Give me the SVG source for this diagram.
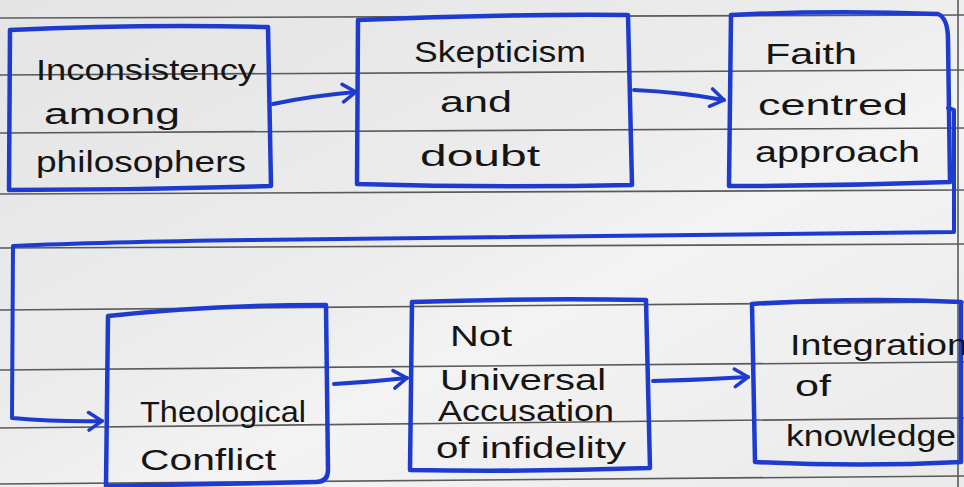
<svg xmlns="http://www.w3.org/2000/svg" width="964" height="487" viewBox="0 0 964 487">
<defs>
<linearGradient id="paper" x1="0" y1="0" x2="1" y2="1">
<stop offset="0" stop-color="#e4e4e4"/>
<stop offset="0.45" stop-color="#ececec"/>
<stop offset="0.6" stop-color="#f3f3f3"/>
<stop offset="1" stop-color="#eaeaea"/>
</linearGradient>
<marker id="arr" viewBox="0 0 20 20" refX="16" refY="10" markerWidth="22" markerHeight="22" markerUnits="userSpaceOnUse" orient="auto">
<path d="M4 2 L16 10 L4 18" fill="none" stroke="#1d3ccf" stroke-width="3.2" stroke-linecap="round" stroke-linejoin="round"/>
</marker>
</defs>
<style>
.box{fill:none;stroke:#1d3ccf;stroke-width:4.5;stroke-linejoin:round;stroke-linecap:round}
.con{fill:none;stroke:#1d3ccf;stroke-width:4;stroke-linecap:round;stroke-linejoin:round}
.rule{stroke:#5a5a5a;stroke-width:1.6;fill:none}
text{font-family:"Liberation Sans","DejaVu Sans",sans-serif;font-size:30px;fill:#151515}
</style>
<rect x="0" y="0" width="964" height="487" fill="url(#paper)"/>
<g id="paper-lines">
<path class="rule" d="M0 18 L964 15"/>
<path class="rule" d="M0 75 L964 70"/>
<path class="rule" d="M0 133 L964 128"/>
<path class="rule" d="M0 194 L964 190"/>
<path class="rule" d="M0 248 L964 244"/>
<path class="rule" d="M0 310 L964 302"/>
<path class="rule" d="M0 370 L964 362"/>
<path class="rule" d="M0 428 L964 418"/>
<path class="rule" d="M0 484 L964 476"/>
<path class="rule" d="M958 0 L958 487"/>
</g>
<g id="connectors">
<path class="con" d="M273 104 Q310 96 356 92" marker-end="url(#arr)"/>
<path class="con" d="M634 90 Q680 92 724 100" marker-end="url(#arr)"/>
<path class="con" d="M948 108 L954 110 L954 232 Q600 236 250 240 Q100 242 13 246 L12 418 Q60 422 102 421" marker-end="url(#arr)"/>
<path class="con" d="M334 384 Q370 382 407 378" marker-end="url(#arr)"/>
<path class="con" d="M653 381 Q700 380 748 377" marker-end="url(#arr)"/>
</g>
<g id="node-inconsistency">
<path class="box" d="M10 30 Q140 24 268 27 L271 186 Q140 190 9 190 Z"/>
<text x="36" y="80" textLength="220" lengthAdjust="spacingAndGlyphs">Inconsistency</text>
<text x="44" y="124" textLength="136" lengthAdjust="spacingAndGlyphs">among</text>
<text x="36" y="172" textLength="210" lengthAdjust="spacingAndGlyphs">philosophers</text>
</g>
<g id="node-skepticism">
<path class="box" d="M358 20 Q490 14 628 15 L632 185 Q495 188 357 184 Z"/>
<text x="414" y="62" textLength="172" lengthAdjust="spacingAndGlyphs">Skepticism</text>
<text x="440" y="112" textLength="72" lengthAdjust="spacingAndGlyphs">and</text>
<text x="420" y="166" textLength="120" lengthAdjust="spacingAndGlyphs">doubt</text>
</g>
<g id="node-faith">
<path class="box" d="M731 15 Q830 10 938 14 Q948 18 948 40 L950 182 Q840 186 729 186 Z"/>
<text x="765" y="64" textLength="92" lengthAdjust="spacingAndGlyphs">Faith</text>
<text x="758" y="115" textLength="150" lengthAdjust="spacingAndGlyphs">centred</text>
<text x="755" y="162" textLength="165" lengthAdjust="spacingAndGlyphs">approach</text>
</g>
<g id="node-theological">
<path class="box" d="M108 316 Q210 305 326 305 L328 470 Q328 482 316 482 Q210 484 106 486 Z"/>
<text x="140" y="422" textLength="166" lengthAdjust="spacingAndGlyphs">Theological</text>
<text x="140" y="470" textLength="136" lengthAdjust="spacingAndGlyphs">Conflict</text>
</g>
<g id="node-not-universal">
<path class="box" d="M412 302 Q530 298 646 300 L650 468 Q530 472 410 470 Z"/>
<text x="450" y="346" textLength="62" lengthAdjust="spacingAndGlyphs">Not</text>
<text x="440" y="390" textLength="166" lengthAdjust="spacingAndGlyphs">Universal</text>
<text x="438" y="421" textLength="176" lengthAdjust="spacingAndGlyphs">Accusation</text>
<text x="436" y="458" textLength="190" lengthAdjust="spacingAndGlyphs">of infidelity</text>
</g>
<g id="node-integration">
<path class="box" d="M752 304 Q860 297 961 302 L961 462 Q860 467 755 462 Z"/>
<text x="790" y="355" textLength="178" lengthAdjust="spacingAndGlyphs">Integration</text>
<text x="795" y="396" textLength="36" lengthAdjust="spacingAndGlyphs">of</text>
<text x="786" y="446" textLength="170" lengthAdjust="spacingAndGlyphs">knowledge</text>
</g>
</svg>
